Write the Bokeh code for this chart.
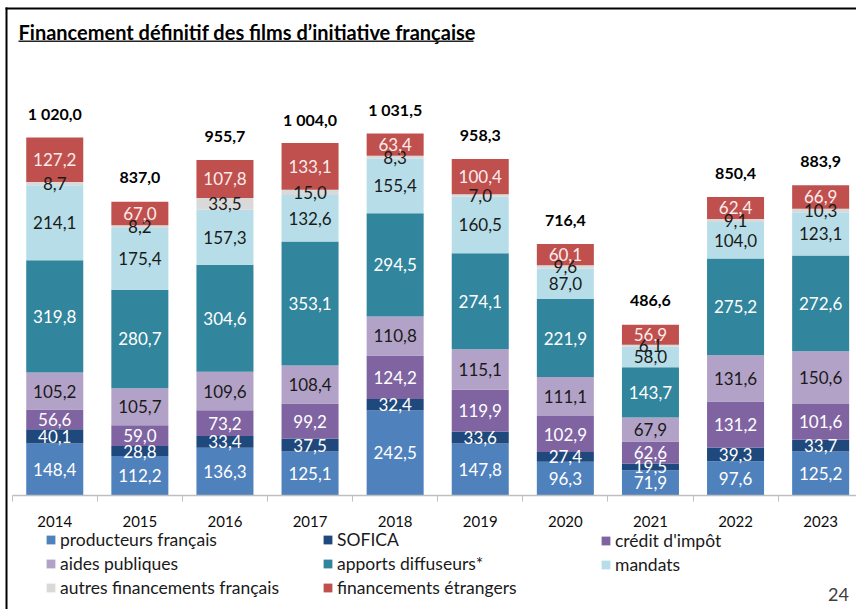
import numpy as np
from bokeh.plotting import figure
from bokeh.models import (ColumnDataSource, Range1d, FixedTicker, Legend, LegendItem,
                          Label, BoxAnnotation)
from bokeh.core.properties import value
from bokeh.embed import file_html
from bokeh.resources import INLINE

years = ["2014", "2015", "2016", "2017", "2018", "2019", "2020", "2021", "2022", "2023"]
producteurs = [148.4, 112.2, 136.3, 125.1, 242.5, 147.8, 96.3, 71.9, 97.6, 125.2]
sofica = [40.1, 28.8, 33.4, 37.5, 32.4, 33.6, 27.4, 19.5, 39.3, 33.7]
credit_impot = [56.6, 59.0, 73.2, 99.2, 124.2, 119.9, 102.9, 62.6, 131.2, 101.6]
aides_publiques = [105.2, 105.7, 109.6, 108.4, 110.8, 115.1, 111.1, 67.9, 131.6, 150.6]
apports_diffuseurs = [319.8, 280.7, 304.6, 353.1, 294.5, 274.1, 221.9, 143.7, 275.2, 272.6]
mandats = [214.1, 175.4, 157.3, 132.6, 155.4, 160.5, 87.0, 58.0, 104.0, 123.1]
autres = [8.7, 8.2, 33.5, 15.0, 8.3, 7.0, 9.6, 6.1, 9.1, 10.3]
etrangers = [127.2, 67.0, 107.8, 133.1, 63.4, 100.4, 60.1, 56.9, 62.4, 66.9]
totals = [1020.0, 837.0, 955.7, 1004.0, 1031.5, 958.3, 716.4, 486.6, 850.4, 883.9]

series_names = ["producteurs français", "SOFICA", "crédit d'impôt", "aides publiques",
                "apports diffuseurs*", "mandats", "autres financements français",
                "financements étrangers"]
series_values = [producteurs, sofica, credit_impot, aides_publiques,
                 apports_diffuseurs, mandats, autres, etrangers]
colors = ["#4F81BD", "#1F497D", "#8064A2", "#B3A2C7", "#31859C", "#B7DEE8", "#D9D9D9", "#C0504D"]
label_colors = ["white", "white", "white", "#1a1a1a", "white", "#1a1a1a", "#1a1a1a", "#fbecec"]

FONT = "Lato"
W, H = 856, 609
PITCH = 85.1          # px per category
X0 = 11.7             # px of first category boundary
BASE = 495            # px of y = 0 (from top)
SCALE = 0.351         # px per unit


def fr(v):
    s = f"{v:,.1f}"
    return s.replace(",", "\u00a0").replace(".", ",")


keys = [f"s{i}" for i in range(len(series_names))]
x = np.arange(len(years)) + 0.5
data = {"x": x}
for k, vals in zip(keys, series_values):
    data[k] = vals
source = ColumnDataSource(data)

p = figure(width=W, height=H, output_backend="svg", toolbar_location=None,
           x_range=Range1d(-X0 / PITCH, (W - X0) / PITCH),
           y_range=Range1d(-(H - BASE) / SCALE, BASE / SCALE),
           y_axis_location=None, min_border=0,
           min_border_left=0, min_border_right=0, min_border_top=0, min_border_bottom=0)
p.outline_line_color = None
p.background_fill_color = "white"
p.border_fill_color = "white"
p.xgrid.visible = False
p.ygrid.visible = False

renderers = p.vbar_stack(keys, x="x", width=0.67, source=source, color=colors, line_color=None)

# segment labels
base = np.zeros(len(years))
for vals, lc in zip(series_values, label_colors):
    v = np.array(vals)
    mids = base + v / 2
    p.text(x=x, y=mids, text=[fr(t) for t in vals], text_align="center", text_baseline="middle",
           text_font=value(FONT), text_font_size="17px", text_color=lc)
    base = base + v

# totals
p.text(x=x, y=totals, text=[fr(t) for t in totals], text_align="center", text_baseline="middle",
       y_offset=-24, text_font=value(FONT), text_font_size="16px", text_font_style="bold",
       text_color="black")

ax = p.xaxis[0]
ax.fixed_location = 0
ax.bounds = (0, len(years))
ax.ticker = FixedTicker(ticks=list(x), minor_ticks=list(np.arange(len(years) + 1)))
ax.major_label_overrides = {float(c): y for c, y in zip(x, years)}
ax.major_tick_line_color = None
ax.major_tick_in = 0
ax.major_tick_out = 0
ax.minor_tick_line_color = "#BFBFBF"
ax.minor_tick_in = 0
ax.minor_tick_out = 6
ax.axis_line_color = "#BFBFBF"
ax.axis_line_width = 1.5
ax.major_label_standoff = 14
ax.major_label_text_font = FONT
ax.major_label_text_font_size = "15px"
ax.major_label_text_color = "#0d0d0d"

# legend in three columns
cols = [[0, 3, 6], [1, 4, 7], [2, 5]]
col_x = [45, 322, 600]
top_row = 531.7
for cx, idxs in zip(col_x, cols):
    items = [LegendItem(label=series_names[i], renderers=[renderers[i]]) for i in idxs]
    n = len(idxs)
    h = n * 20 + (n - 1) * 3
    lg = Legend(items=items, location=(cx, H - top_row - h), orientation="vertical",
                glyph_width=11, glyph_height=11, label_height=20, spacing=3,
                label_standoff=4, padding=0, margin=0, border_line_color=None,
                background_fill_alpha=0, label_text_font=FONT, label_text_font_size="17.5px",
                label_text_color="#1a1a1a")
    p.add_layout(lg, "center")

# title with underline
title = "Financement définitif des films d\u2019initiative française"
p.add_layout(Label(x=18, y=H - 31, x_units="screen", y_units="screen", text=title,
                   text_font=FONT, text_font_size="20px", text_font_style="bold",
                   text_baseline="middle", text_color="black"))
p.add_layout(BoxAnnotation(left=18, right=473, top=H - 40, bottom=H - 41.5,
                           left_units="screen", right_units="screen",
                           top_units="screen", bottom_units="screen",
                           fill_color="#222222", fill_alpha=1, line_color=None))
# outer frame lines
p.add_layout(BoxAnnotation(left=5, right=7, top=H - 7, bottom=0,
                           left_units="screen", right_units="screen",
                           top_units="screen", bottom_units="screen",
                           fill_color="black", fill_alpha=1, line_color=None))
p.add_layout(BoxAnnotation(left=5, right=W, top=H - 7, bottom=H - 9,
                           left_units="screen", right_units="screen",
                           top_units="screen", bottom_units="screen",
                           fill_color="black", fill_alpha=1, line_color=None))
# page number
p.add_layout(Label(x=838, y=H - 594, x_units="screen", y_units="screen", text="24",
                   text_font=FONT, text_font_size="18px", text_baseline="middle",
                   text_align="center", text_color="#404040"))

open("out.html", "w").write(file_html(p, INLINE))
